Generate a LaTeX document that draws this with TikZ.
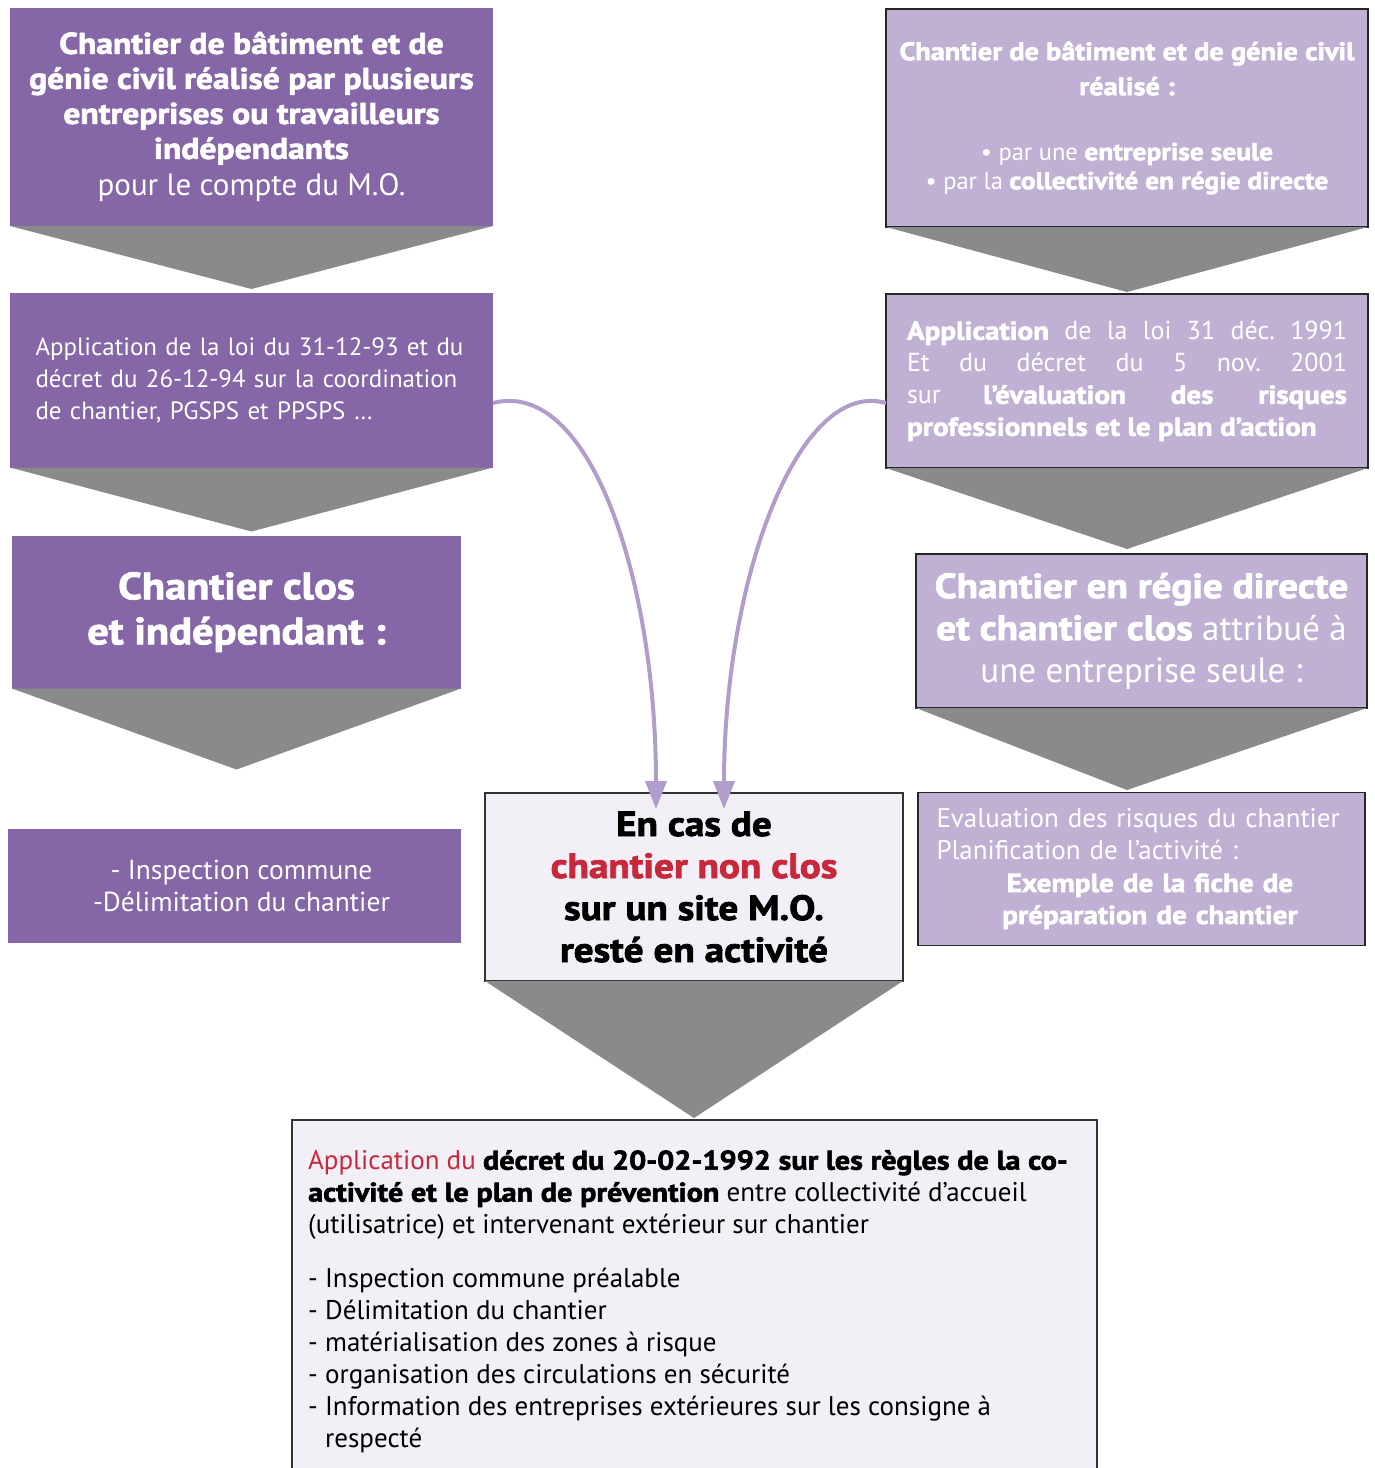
\documentclass[tikz,border=0pt]{standalone}
\usepackage{fontspec}
\setmainfont{PT Sans}[BoldFeatures={FakeBold=2.2,FakeStretch=1.12}]
\usetikzlibrary{calc,arrows.meta}
\definecolor{dpur}{HTML}{8566A6}
\definecolor{lpur}{HTML}{C0B1D4}
\definecolor{pale}{HTML}{F2EFF6}
\definecolor{chev}{HTML}{898A8C}
\definecolor{arrc}{HTML}{B09DCB}
\definecolor{alert}{HTML}{C8283C}
\tikzset{
 box/.style={rectangle, inner sep=0pt, outer sep=0pt, align=center, text=white},
 dbox/.style={box, fill=dpur},
 lbox/.style={box, fill=lpur, draw=black!85, line width=1.3pt},
 pbox/.style={box, fill=pale, draw=black!80, line width=1.3pt, text=black},
 chevron/.style={fill=chev},
 link/.style={draw=arrc, line width=4pt, -{Triangle[length=28pt,width=21pt]}},
}
\frenchspacing
\begin{document}
\begin{tikzpicture}[x=1pt,y=-1pt]
\useasboundingbox (0,0) rectangle (1375,1468);
\clip (0,0) rectangle (1375,1468);

% left column
\node[dbox, minimum width=483pt, minimum height=218pt, font=\fontsize{30}{35}\selectfont] (L1) at (251.5,117)
 {{\bfseries Chantier de bâtiment et de}\\{\bfseries génie civil réalisé par plusieurs}\\{\bfseries entreprises ou travailleurs}\\{\bfseries indépendants}\\[2pt]{\fontsize{31}{35}\selectfont pour le compte du M.O.}};
\fill[chevron] (L1.south west) -- (L1.south east) -- ($(L1.south)+(0,63)$) -- cycle;

\node[dbox, minimum width=483pt, minimum height=175pt, font=\fontsize{25}{32}\selectfont, align=left, text width=432pt] (L2) at (251.5,380)
 {Application de la loi du 31-12-93 et du\\décret du 26-12-94 sur la coordination\\de chantier, PGSPS et PPSPS …};
\fill[chevron] (L2.south west) -- (L2.south east) -- ($(L2.south)+(0,64)$) -- cycle;

\node[dbox, minimum width=449pt, minimum height=153pt, font=\fontsize{38}{45}\selectfont\bfseries] (L3) at (236.5,612)
 {Chantier clos\\et indépendant :};
\fill[chevron] (L3.south west) -- (L3.south east) -- ($(L3.south)+(0,81)$) -- cycle;

\node[dbox, minimum width=453pt, minimum height=114pt, font=\fontsize{27.5}{32}\selectfont] (L4) at (234.5,886)
 {\hspace*{14pt}- Inspection commune\\\hspace*{14pt}-Délimitation du chantier};

% right column
\node[lbox, minimum width=482pt, minimum height=218pt, font=\fontsize{25.3}{35}\selectfont] (R1) at (1127,118)
 {{\bfseries Chantier de bâtiment et de génie civil}\\{\bfseries réalisé :}\\[30pt]{\fontsize{24.5}{29}\selectfont • par une \textbf{entreprise seule}}\\[-6pt]{\fontsize{24.5}{29}\selectfont • par la \textbf{collectivité en régie directe}}};
\fill[chevron] (R1.south west) -- (R1.south east) -- ($(R1.south)+(0,65)$) -- cycle;

\node[lbox, minimum width=482pt, minimum height=174pt, font=\fontsize{26}{32}\selectfont, align=justify, text width=440pt] (R2) at (1127,381)
 {\textbf{Application} de la loi 31 déc. 1991\linebreak Et du décret du 5 nov. 2001\linebreak sur \textbf{l’évaluation des risques}\linebreak \textbf{professionnels et le plan d’action}};
\fill[chevron] (R2.south west) -- (R2.south east) -- ($(R2.south)+(0,81)$) -- cycle;

\node[lbox, minimum width=451pt, minimum height=154pt, font=\fontsize{35}{42}\selectfont] (R3) at (1141.5,631)
 {{\bfseries Chantier en régie directe}\\{\bfseries et chantier clos} attribué à\\une entreprise seule :};
\fill[chevron] (R3.south west) -- (R3.south east) -- ($(R3.south)+(-14.5,82)$) -- cycle;

\node[lbox, minimum width=447pt, minimum height=153pt, font=\fontsize{27}{32}\selectfont, align=left, text width=410pt] (R4) at (1141.5,869)
 {Evaluation des risques du chantier\\Planification de l’activité :\\\makebox[410pt][c]{\hspace{17pt}\fontsize{26}{32}\selectfont\bfseries Exemple de la fiche de}\\\makebox[410pt][c]{\hspace{17pt}\fontsize{26}{32}\selectfont\bfseries préparation de chantier}};

% centre
\node[pbox, minimum width=418pt, minimum height=188pt, font=\fontsize{35}{42}\selectfont\bfseries] (C) at (694,887)
 {En cas de\\\textcolor{alert}{chantier non clos}\\sur un site M.O.\\resté en activité};
\fill[chevron] (C.south west) -- (C.south east) -- ($(C.south)+(0,137)$) -- cycle;

% bottom
\node[pbox, minimum width=805pt, minimum height=370pt, anchor=north west] (B) at (292,1120) {};
\node[anchor=north west, inner sep=0pt, align=left, text=black, font=\fontsize{27}{32}\selectfont] (Bt) at ($(B.north west)+(16,30)$)
 {\textcolor{alert}{Application du} \textbf{décret du 20-02-1992 sur les règles de la co-}\\
  \textbf{activité et le plan de prévention} entre collectivité d’accueil\\
  (utilisatrice) et intervenant extérieur sur chantier\\[22pt]
  - Inspection commune préalable\\
  - Délimitation du chantier\\
  - matérialisation des zones à risque\\
  - organisation des circulations en sécurité\\
  - Information des entreprises extérieures sur les consigne à\\
  \hspace*{17pt}respecté};

% connectors
\draw[link] ($(L2.east)+(0,23)$) .. controls (590,378) and (656,580) .. ($(C.north)+(-38,16)$);
\draw[link] ($(R2.west)+(0,22)$) .. controls (798,378) and (724,580) .. ($(C.north)+(30,16)$);
\end{tikzpicture}
\end{document}
